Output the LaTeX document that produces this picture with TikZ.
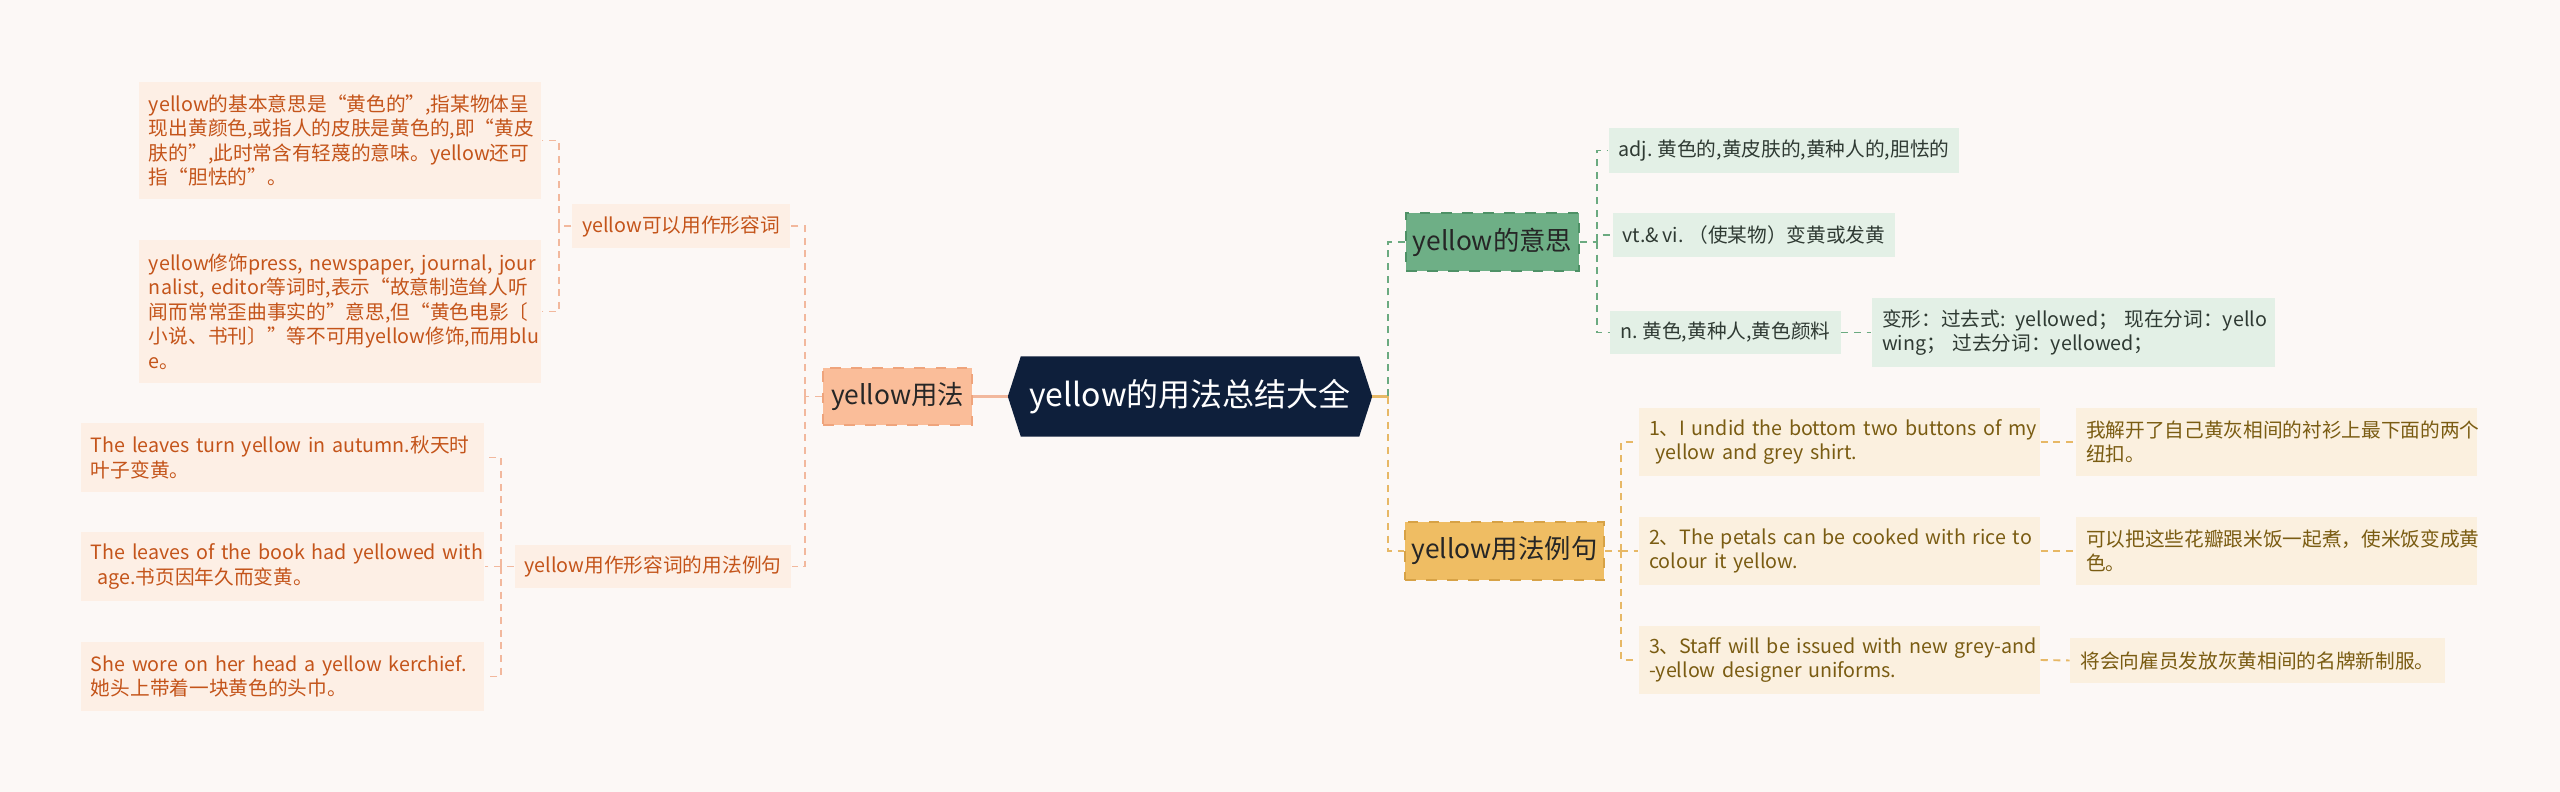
\documentclass[tikz,border=0pt]{standalone}
\usepackage{fontspec}
\setmainfont{Noto Sans CJK SC}[WordSpace=0.75]
\usetikzlibrary{backgrounds}

\definecolor{pagebg}{HTML}{FCF8F6}
\definecolor{rootfill}{HTML}{0E1F3B}
\definecolor{redtopic}{HTML}{FABD99}
\definecolor{redborder}{HTML}{EFA47C}
\definecolor{redfill}{HTML}{FDEFE5}
\definecolor{redtext}{HTML}{C4541A}
\definecolor{redline}{HTML}{F2B89D}
\definecolor{greentopic}{HTML}{6EAF86}
\definecolor{greenborder}{HTML}{4E9166}
\definecolor{greenfill}{HTML}{E3F0E6}
\definecolor{greentext}{HTML}{2F3A33}
\definecolor{greenline}{HTML}{6BAA80}
\definecolor{goldtopic}{HTML}{EFBD63}
\definecolor{goldborder}{HTML}{D7A246}
\definecolor{goldfill}{HTML}{FBF0DF}
\definecolor{goldtext}{HTML}{7A5C12}
\definecolor{goldline}{HTML}{E7B866}

\newcommand{\leaffont}{\fontsize{5.6}{6.95}\selectfont}
\newcommand{\topicfont}{\fontsize{7.5}{9}\selectfont}
\newcommand{\rootfont}{\fontsize{9.1}{10.5}\selectfont}
\newcommand{\keep}[1]{\mbox{#1}}

\tikzset{
  box/.style={inner xsep=0.1cm, inner ysep=0pt, align=left, font=\leaffont},
  redbox/.style={box, fill=redfill, text=redtext},
  greenbox/.style={box, fill=greenfill, text=greentext},
  goldbox/.style={box, fill=goldfill, text=goldtext},
  topic/.style={dashed, line width=0.6pt, inner sep=0pt, font=\topicfont, text=black!85},
  rootnode/.style={inner sep=0pt, minimum width=3.37cm, minimum height=0.79cm, font=\rootfont, text=white},
  link/.style={line width=0.55pt, dash pattern=on 2pt off 1.6pt},
  redlink/.style={link, draw=redline},
  greenlink/.style={link, draw=greenline},
  goldlink/.style={link, draw=goldline}
}

\begin{document}
\begin{tikzpicture}
    \useasboundingbox (0,0) rectangle (25.6,-7.92);
    % root
    \node[rootnode] (root) at (11.90,-3.965) {yellow的用法总结大全};
    % left branch
    \node[topic, draw=redborder, fill=redtopic, minimum width=1.49cm, minimum height=0.57cm] (use) at (8.975,-3.965) {yellow用法};
    \node[redbox, minimum width=2.12cm, minimum height=0.44cm, align=center] (adj) at (6.81,-2.26) {yellow可以用作形容词};
    \node[redbox, minimum width=2.68cm, minimum height=0.43cm, align=center] (sent) at (6.53,-5.665) {yellow用作形容词的用法例句};
    \node[redbox, text width=3.82cm, minimum height=1.17cm] (a1) at (3.40,-1.405)
      {yellow的基本意思是“黄色的”,指某物体呈\\现出黄颜色,或指人的皮肤是黄色的,即“黄皮\\肤的”,此时常含有轻蔑的意味。yellow还可\\指“胆怯的”。};
    \node[redbox, text width=3.82cm, minimum height=1.43cm] (a2) at (3.40,-3.115)
      {\keep{yellow修饰press, newspaper, journal, jour}\\\keep{nalist, editor等词时,表示“故意制造耸人听}\\闻而常常歪曲事实的”意思,但“黄色电影〔\\\keep{小说、书刊〕”等不可用yellow修饰,而用blu}\\e。};
    \node[redbox, text width=3.83cm, minimum height=0.69cm] (b1) at (2.825,-4.575)
      {\keep{The leaves turn yellow in autumn.秋天时}\\叶子变黄。};
    \node[redbox, text width=3.83cm, minimum height=0.69cm] (b2) at (2.825,-5.665)
      {\keep{The leaves of the book had yellowed with}\\\mbox{} age.书页因年久而变黄。};
    \node[redbox, text width=3.83cm, minimum height=0.69cm] (b3) at (2.825,-6.765)
      {\keep{She wore on her head a yellow kerchief.}\\她头上带着一块黄色的头巾。};
    % right branch: meaning
    \node[topic, draw=greenborder, fill=greentopic, minimum width=1.73cm, minimum height=0.58cm] (mean) at (14.925,-2.42) {yellow的意思};
    \node[greenbox, minimum width=3.40cm, minimum height=0.45cm] (c1) at (17.84,-1.505) {adj. 黄色的,黄皮肤的,黄种人的,胆怯的};
    \node[greenbox, minimum width=2.80cm, minimum height=0.44cm] (c2) at (17.54,-2.35) {vt.\& vi. （使某物）变黄或发黄};
    \node[greenbox, minimum width=2.23cm, minimum height=0.43cm] (c3) at (17.255,-3.325) {n. 黄色,黄种人,黄色颜料};
    \node[greenbox, text width=3.83cm, minimum height=0.69cm] (c4) at (20.735,-3.325)
      {\keep{变形：过去式: yellowed； 现在分词：yello}\\\keep{wing； 过去分词：yellowed；}};
    % right branch: examples
    \node[topic, draw=goldborder, fill=goldtopic, minimum width=1.99cm, minimum height=0.58cm] (ex) at (15.045,-5.51) {yellow用法例句};
    \node[goldbox, text width=3.81cm, minimum height=0.68cm] (d1) at (18.395,-4.42)
      {\keep{1、I undid the bottom two buttons of my}\\\mbox{} yellow and grey shirt.};
    \node[goldbox, text width=3.81cm, minimum height=0.68cm] (d2) at (18.395,-5.51)
      {\keep{2、The petals can be cooked with rice to}\\colour it yellow.};
    \node[goldbox, text width=3.81cm, minimum height=0.68cm] (d3) at (18.395,-6.60)
      {\keep{3、Staff will be issued with new grey-and}\\-yellow designer uniforms.};
    \node[goldbox, text width=3.81cm, minimum height=0.68cm] (e1) at (22.765,-4.42)
      {我解开了自己黄灰相间的衬衫上最下面的两个\\纽扣。};
    \node[goldbox, text width=3.81cm, minimum height=0.68cm] (e2) at (22.765,-5.51)
      {可以把这些花瓣跟米饭一起煮，使米饭变成黄\\色。};
    \node[goldbox, minimum width=3.63cm, minimum height=0.45cm] (e3) at (22.575,-6.605)
      {将会向雇员发放灰黄相间的名牌新制服。};
    % joints
    \coordinate (ja) at (5.59,-2.26);
    \coordinate (jb) at (5.01,-5.665);
    \coordinate (jl) at (8.05,-3.965);
    \coordinate (jr) at (13.88,-3.965);
    \coordinate (jm) at (15.97,-2.42);
    \coordinate (je) at (16.21,-5.51);
    % left links
    \draw[line width=1pt, redline] ([xshift=-1.3mm]root.west) -- (use.east);
    \draw[redlink] (use.west) -- (jl);
    \draw[redlink] (jl) |- (adj.east);
    \draw[redlink] (jl) |- (sent.east);
    \draw[redlink] (adj.west) -- (ja);
    \draw[redlink] (ja) |- (a1.east);
    \draw[redlink] (ja) |- (a2.east);
    \draw[redlink] (sent.west) -- (jb);
    \draw[redlink] (jb) |- (b1.east);
    \draw[redlink] (jb) |- (b2.east);
    \draw[redlink] (jb) |- (b3.east);
    % right links
    \draw[line width=1pt, goldline] ([xshift=1.3mm]root.east) -- (jr);
    \draw[greenlink] (jr) |- (mean.west);
    \draw[goldlink] (jr) |- (ex.west);
    \draw[greenlink] (mean.east) -- (jm);
    \draw[greenlink] (jm) |- (c1.west);
    \draw[greenlink] (jm) |- (c2.west);
    \draw[greenlink] (jm) |- (c3.west);
    \draw[greenlink] (c3.east) -- (c4.west);
    \draw[goldlink] (ex.east) -- (je);
    \draw[goldlink] (je) |- (d1.west);
    \draw[goldlink] (je) |- (d2.west);
    \draw[goldlink] (je) |- (d3.west);
    \draw[goldlink] (d1.east) -- (e1.west);
    \draw[goldlink] (d2.east) -- (e2.west);
    \draw[goldlink] (d3.east) -- (e3.west);
    % page and root shape
    \begin{scope}[on background layer]
      \fill[pagebg] (0,0) rectangle (25.6,-7.92);
      \fill[rootfill] ([xshift=-1.3mm]root.west) -- (root.north west) -- (root.north east)
        -- ([xshift=1.3mm]root.east) -- (root.south east) -- (root.south west) -- cycle;
    \end{scope}
\end{tikzpicture}
\end{document}
